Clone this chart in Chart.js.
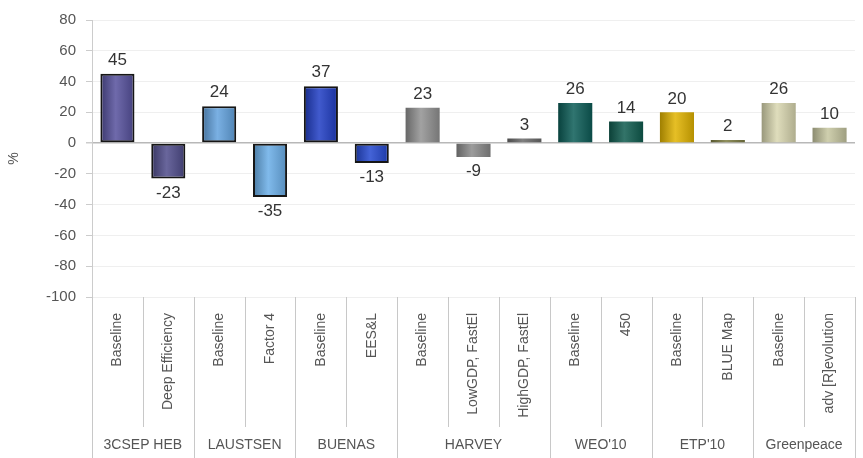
<!DOCTYPE html>
<html>
<head>
<meta charset="utf-8">
<script src="https://cdn.jsdelivr.net/npm/chart.js@4"></script>
<style>
    html, body { margin: 0; padding: 0; background: #ffffff; }
    #wrap { width: 863px; height: 458px; }
</style>
</head>
<body>
<div id="wrap"><canvas id="chart" width="863" height="458"></canvas></div>
<script>
const subLabels = ["Baseline", "Deep Efficiency", "Baseline", "Factor 4", "Baseline", "EES&L", "Baseline", "LowGDP, FastEl", "HighGDP, FastEl", "Baseline", "450", "Baseline", "BLUE Map", "Baseline", "adv [R]evolution"];
const values = [45, -23, 24, -35, 37, -13, 23, -9, 3, 26, 14, 20, 2, 26, 10];
const groupNames = ["3CSEP HEB", "LAUSTSEN", "BUENAS", "HARVEY", "WEO'10", "ETP'10", "Greenpeace"];
const groupSizes = [2, 2, 2, 3, 2, 2, 2];
const barColors = ["#55509c", "#4e4b8a", "#62a2de", "#6aaee8", "#1f3dc4", "#2347d0", "#929292", "#8a8a8a", "#6a6a6a", "#0c5d57", "#0f5c4f", "#e2b400", "#7c7c42", "#d9d7b0", "#c6c6a0"];
const yTicks = [80, 60, 40, 20, 0, -20, -40, -60, -80, -100];

function shade(hex, f) {
    const n = parseInt(hex.slice(1), 16);
    const ch = [(n >> 16) & 255, (n >> 8) & 255, n & 255].map(c => {
        const v = f < 0 ? c * (1 + f) : c + (255 - c) * f;
        return Math.round(Math.max(0, Math.min(255, v)));
    });
    return "rgb(" + ch.join(",") + ")";
}

const valueLabels = {
    id: "valueLabels",
    afterDatasetsDraw(chart) {
        const ctx = chart.ctx;
        const meta = chart.getDatasetMeta(0);
        ctx.save();
        ctx.font = "17px 'Liberation Sans', Arial, sans-serif";
        ctx.fillStyle = "#333333";
        ctx.textAlign = "center";
        meta.data.forEach((bar, i) => {
            const v = values[i];
            if (v >= 0) {
                ctx.textBaseline = "bottom";
                ctx.fillText(String(v), bar.x, bar.y - 5);
            } else {
                ctx.textBaseline = "top";
                ctx.fillText(String(v), bar.x, bar.y + 6);
            }
        });
        ctx.restore();
    }
};

const groupAxis = {
    id: "groupAxis",
    afterDraw(chart) {
        const ctx = chart.ctx;
        const x = chart.scales.x;
        const area = chart.chartArea;
        const step = (area.right - area.left) / subLabels.length;
        const bottom = chart.height;
        ctx.save();
        ctx.strokeStyle = "#c8c8c8";
        ctx.lineWidth = 1;
        const groupEdges = [0];
        groupSizes.forEach(s => groupEdges.push(groupEdges[groupEdges.length - 1] + s));
        for (let i = 0; i <= subLabels.length; i++) {
            const px = Math.round(x.getPixelForValue(i) - step / 2) + 0.5;
            const isGroup = groupEdges.includes(i);
            ctx.beginPath();
            ctx.moveTo(px, area.bottom);
            ctx.lineTo(px, isGroup ? bottom : area.bottom + 130);
            ctx.stroke();
        }
        ctx.font = "14px 'Liberation Sans', Arial, sans-serif";
        ctx.fillStyle = "#555555";
        ctx.textAlign = "center";
        ctx.textBaseline = "middle";
        groupNames.forEach((name, g) => {
            const first = groupEdges[g];
            const last = groupEdges[g + 1] - 1;
            const cx = (x.getPixelForValue(first) + x.getPixelForValue(last)) / 2;
            ctx.fillText(name, cx, area.bottom + 148);
        });
        ctx.restore();
    }
};

new Chart(document.getElementById("chart"), {
    type: "bar",
    data: {
        labels: subLabels,
        datasets: [{
            label: "%",
            data: values,
            backgroundColor: context => {
                const chart = context.chart;
                const area = chart.chartArea;
                const base = barColors[context.dataIndex];
                if (!area) {
                    return base;
                }
                const step = (area.right - area.left) / subLabels.length;
                const cx = chart.scales.x.getPixelForValue(context.dataIndex);
                const half = step * 0.34;
                const g = chart.ctx.createLinearGradient(cx - half, 0, cx + half, 0);
                g.addColorStop(0, shade(base, -0.3));
                g.addColorStop(0.45, shade(base, 0.15));
                g.addColorStop(1, shade(base, -0.2));
                return g;
            },
            borderColor: "#161616",
            borderWidth: [2, 2, 2, 2, 2, 2, 0, 0, 0, 0, 0, 0, 0, 0, 0],
            borderSkipped: false,
            barPercentage: 0.67,
            categoryPercentage: 1
        }]
    },
    options: {
        responsive: false,
        animation: false,
        layout: {
            padding: { top: 20, right: 8, left: 0, bottom: 0 }
        },
        plugins: {
            legend: { display: false },
            tooltip: { enabled: false }
        },
        scales: {
            x: {
                grid: { display: false },
                border: { display: false },
                ticks: {
                    minRotation: 90,
                    maxRotation: 90,
                    autoSkip: false,
                    padding: 8,
                    color: "#555555",
                    font: { family: "'Liberation Sans', Arial, sans-serif", size: 14 }
                },
                afterFit(scale) {
                    scale.height = 161;
                }
            },
            y: {
                min: -100,
                max: 80,
                afterBuildTicks(scale) {
                    scale.ticks = yTicks.map(v => ({ value: v }));
                },
                grid: {
                    color: ctx => ctx.tick && ctx.tick.value === 0 ? "#b8b8b8" : "#efefef",
                    lineWidth: ctx => ctx.tick && ctx.tick.value === 0 ? 1.5 : 1,
                    tickLength: 6,
                    tickColor: "#cccccc"
                },
                border: { display: true, color: "#cccccc" },
                ticks: {
                    padding: 10,
                    color: "#555555",
                    font: { family: "'Liberation Sans', Arial, sans-serif", size: 15 }
                },
                title: {
                    display: true,
                    text: "%",
                    color: "#555555",
                    padding: { top: 6, bottom: 0 },
                    font: { family: "'Liberation Sans', Arial, sans-serif", size: 14 }
                },
                afterFit(scale) {
                    scale.width = 92;
                }
            }
        }
    },
    plugins: [valueLabels, groupAxis]
});
</script>
</body>
</html>
